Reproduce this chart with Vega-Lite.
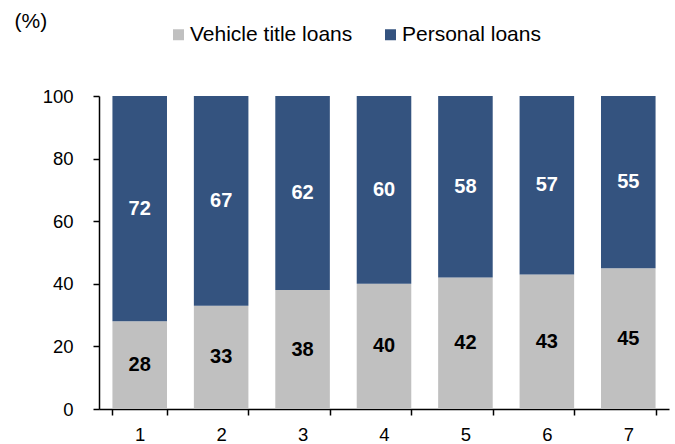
{
  "$schema": "https://vega.github.io/schema/vega-lite/v6.json",
  "autosize": {"type": "none"},
  "width": 570,
  "height": 313,
  "padding": {"left": 99, "top": 96, "right": 6, "bottom": 35},
  "background": "white",
  "config": {
    "view": {"stroke": null},
    "font": "Liberation Sans",
    "axis": {"grid": false, "domainColor": "black", "tickColor": "black", "domainWidth": 1.5, "tickWidth": 1.5, "labelColor": "black", "labelFont": "Liberation Sans", "labelFontSize": 18.5}
  },
  "data": {
    "values": [
      {"cat": "1", "series": "Vehicle title loans", "k": 1, "value": 28},
      {"cat": "2", "series": "Vehicle title loans", "k": 1, "value": 33},
      {"cat": "3", "series": "Vehicle title loans", "k": 1, "value": 38},
      {"cat": "4", "series": "Vehicle title loans", "k": 1, "value": 40},
      {"cat": "5", "series": "Vehicle title loans", "k": 1, "value": 42},
      {"cat": "6", "series": "Vehicle title loans", "k": 1, "value": 43},
      {"cat": "7", "series": "Vehicle title loans", "k": 1, "value": 45},
      {"cat": "1", "series": "Personal loans", "k": 2, "value": 72},
      {"cat": "2", "series": "Personal loans", "k": 2, "value": 67},
      {"cat": "3", "series": "Personal loans", "k": 2, "value": 62},
      {"cat": "4", "series": "Personal loans", "k": 2, "value": 60},
      {"cat": "5", "series": "Personal loans", "k": 2, "value": 58},
      {"cat": "6", "series": "Personal loans", "k": 2, "value": 57},
      {"cat": "7", "series": "Personal loans", "k": 2, "value": 55}
    ]
  },
  "transform": [
    {"stack": "value", "groupby": ["cat"], "sort": [{"field": "k", "order": "ascending"}], "as": ["v0", "v1"]},
    {"calculate": "(datum.v0 + datum.v1) / 2", "as": "mid"}
  ],
  "encoding": {
    "x": {
      "field": "cat", "type": "ordinal",
      "scale": {"paddingInner": 0.33, "paddingOuter": 0.165},
      "axis": {"title": null, "labelAngle": 0, "tickBand": "extent", "tickSize": 6, "labelPadding": 10}
    }
  },
  "layer": [
    {
      "mark": {"type": "bar"},
      "encoding": {
        "y": {
          "field": "v0", "type": "quantitative",
          "scale": {"domain": [0, 100], "nice": false},
          "axis": {"values": [0, 20, 40, 60, 80, 100], "tickSize": 6, "labelPadding": 20, "title": "(%)", "titleAngle": 0, "titleAlign": "left", "titleBaseline": "middle", "titleX": -85, "titleY": -75, "titleFont": "Liberation Sans", "titleFontSize": 21, "titleFontWeight": "normal", "titleColor": "black"}
        },
        "y2": {"field": "v1"},
        "color": {
          "field": "series", "type": "nominal",
          "scale": {"domain": ["Vehicle title loans", "Personal loans"], "range": ["#C0C0C0", "#34537F"]},
          "legend": {
            "title": null, "orient": "none", "direction": "horizontal",
            "legendX": 69, "legendY": -72,
            "symbolType": "square", "symbolSize": 121, "symbolStrokeWidth": 0, "symbolOpacity": 1,
            "labelFont": "Liberation Sans", "labelFontSize": 21, "labelColor": "black", "labelOffset": 1, "labelLimit": 400,
            "columnPadding": 27, "padding": 0
          }
        }
      }
    },
    {
      "mark": {"type": "text", "fontWeight": "bold", "fontSize": 20, "baseline": "middle", "font": "Liberation Sans"},
      "encoding": {
        "y": {"field": "mid", "type": "quantitative"},
        "text": {"field": "value", "type": "quantitative"},
        "color": {"condition": {"test": "datum.series === 'Personal loans'", "value": "white"}, "value": "black"}
      }
    }
  ]
}
